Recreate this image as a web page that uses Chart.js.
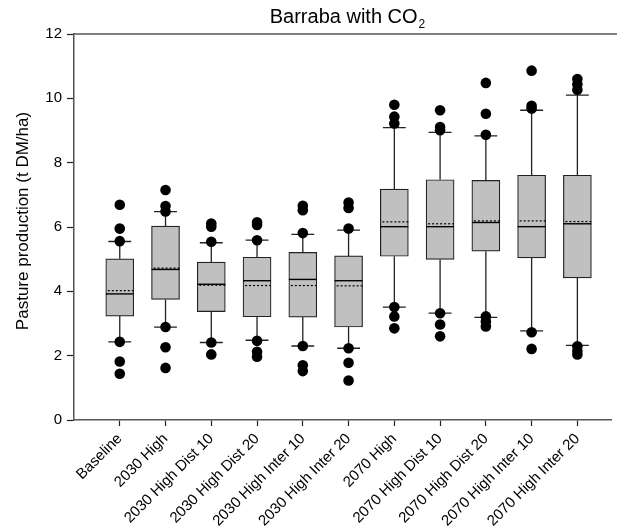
<!DOCTYPE html>
<html lang="en">
<head>
    <meta charset="UTF-8">
    <title>Barraba with CO2</title>
    <script src="https://cdn.jsdelivr.net/npm/chart.js@4.4.1/dist/chart.umd.min.js"></script>
    <style>
        body {
            margin: 0;
            background: #fff;
        }
        #chartContainer {
            width: 617px;
            height: 529px;
            position: relative;
        }
    </style>
</head>
<body>
    <div id="chartContainer">
        <canvas id="myChart"></canvas>
    </div>

    <script>
        const labels = ['Baseline', '2030 High', '2030 High Dist 10', '2030 High Dist 20', '2030 High Inter 10',
            '2030 High Inter 20', '2070 High', '2070 High Dist 10', '2070 High Dist 20', '2070 High Inter 10',
            '2070 High Inter 20'];
        const q1 = [3.23, 3.75, 3.37, 3.21, 3.20, 2.89, 5.09, 4.99, 5.25, 5.04, 4.42];
        const q3 = [5.01, 6.03, 4.91, 5.06, 5.21, 5.10, 7.18, 7.47, 7.45, 7.61, 7.61];
        const medians = [3.92, 4.68, 4.22, 4.33, 4.37, 4.33, 6.01, 6.01, 6.14, 6.01, 6.10];
        const means = [4.02, 4.72, 4.19, 4.18, 4.18, 4.17, 6.16, 6.10, 6.19, 6.19, 6.17];
        const whiskerLow = [2.43, 2.89, 2.41, 2.48, 2.30, 2.23, 3.51, 3.32, 3.19, 2.77, 2.32];
        const whiskerHigh = [5.55, 6.48, 5.51, 5.59, 5.77, 5.90, 9.09, 8.94, 8.83, 9.63, 10.10];
        const outliers = [
            [6.69, 5.95, 5.56, 2.43, 1.82, 1.44],
            [7.15, 6.65, 6.48, 2.89, 2.26, 1.62],
            [6.11, 6.01, 5.54, 2.41, 2.04],
            [6.15, 6.06, 5.59, 2.46, 2.12, 1.97],
            [6.66, 6.52, 5.81, 2.30, 1.70, 1.52],
            [6.76, 6.59, 5.95, 2.23, 1.78, 1.23],
            [9.80, 9.43, 9.22, 3.51, 3.22, 2.85],
            [9.63, 9.11, 9.01, 3.32, 2.97, 2.60],
            [10.48, 9.52, 8.87, 3.22, 3.06, 2.91],
            [10.86, 9.77, 9.68, 2.73, 2.21],
            [10.60, 10.44, 10.27, 2.29, 2.15, 2.04]
        ];
        const yTicks = [0, 2, 4, 6, 8, 10, 12];

        const FONT = "'Liberation Sans', Arial, Helvetica, sans-serif";
        const BOX_HALF = 0.305;   // half box width in x units
        const CAP_HALF = 0.25;    // half whisker cap width

        const boxData = labels.map((l, i) => ({x: i + 1, y: [q1[i], q3[i]]}));
        const dotData = [];
        outliers.forEach((list, i) => list.forEach(v => dotData.push({x: i + 1, y: v})));

        // whiskers, medians, means and the text bits
        const boxExtras = {
            id: 'boxExtras',
            beforeDatasetsDraw(chart) {
                const ctx = chart.ctx, xs = chart.scales.x, ys = chart.scales.y;
                ctx.save();
                ctx.strokeStyle = '#222';
                ctx.lineWidth = 1.3;
                labels.forEach((l, i) => {
                    const x = xs.getPixelForValue(i + 1);
                    const c0 = xs.getPixelForValue(i + 1 - CAP_HALF), c1 = xs.getPixelForValue(i + 1 + CAP_HALF);
                    [[q3[i], whiskerHigh[i]], [q1[i], whiskerLow[i]]].forEach(([a, b]) => {
                        ctx.beginPath();
                        ctx.moveTo(x, ys.getPixelForValue(a));
                        ctx.lineTo(x, ys.getPixelForValue(b));
                        ctx.moveTo(c0, ys.getPixelForValue(b));
                        ctx.lineTo(c1, ys.getPixelForValue(b));
                        ctx.stroke();
                    });
                });
                ctx.restore();
            },
            afterDatasetDraw(chart, args) {
                if (args.index !== 1) return;
                const ctx = chart.ctx, xs = chart.scales.x, ys = chart.scales.y;
                ctx.save();
                labels.forEach((l, i) => {
                    const x0 = xs.getPixelForValue(i + 1 - BOX_HALF), x1 = xs.getPixelForValue(i + 1 + BOX_HALF);
                    ctx.strokeStyle = '#000';
                    ctx.lineWidth = 1.4;
                    ctx.setLineDash([]);
                    ctx.beginPath();
                    ctx.moveTo(x0, ys.getPixelForValue(medians[i]));
                    ctx.lineTo(x1, ys.getPixelForValue(medians[i]));
                    ctx.stroke();
                    ctx.lineWidth = 1.2;
                    ctx.setLineDash([2, 2]);
                    ctx.beginPath();
                    ctx.moveTo(x0 + 2, ys.getPixelForValue(means[i]));
                    ctx.lineTo(x1, ys.getPixelForValue(means[i]));
                    ctx.stroke();
                });
                ctx.restore();
            },
            afterDraw(chart) {
                const ctx = chart.ctx, area = chart.chartArea;
                ctx.save();
                // top frame line
                ctx.strokeStyle = '#555';
                ctx.lineWidth = 1.5;
                ctx.beginPath();
                ctx.moveTo(area.left, area.top);
                ctx.lineTo(chart.width, area.top);
                ctx.stroke();
                // title with subscript
                ctx.fillStyle = '#000';
                ctx.textBaseline = 'alphabetic';
                ctx.textAlign = 'left';
                ctx.font = '20px ' + FONT;
                const main = 'Barraba with CO';
                const w = ctx.measureText(main).width;
                ctx.font = '12px ' + FONT;
                const w2 = ctx.measureText('2').width;
                const startX = 347 - (w + w2) / 2;
                ctx.font = '20px ' + FONT;
                ctx.fillText(main, startX, 23);
                ctx.font = '12px ' + FONT;
                ctx.fillText('2', startX + w + 1, 28);
                // y-axis title
                ctx.font = '17px ' + FONT;
                ctx.textAlign = 'center';
                ctx.textBaseline = 'middle';
                ctx.translate(23, (area.top + area.bottom) / 2 - 6);
                ctx.rotate(-Math.PI / 2);
                ctx.fillText('Pasture production (t DM/ha)', 0, 0);
                ctx.restore();
            }
        };

        const ctx = document.getElementById('myChart').getContext('2d');
        const chart = new Chart(ctx, {
            type: 'bar',
            data: {
                datasets: [
                    {
                        type: 'scatter',
                        label: 'Outliers',
                        data: dotData,
                        backgroundColor: '#000',
                        borderColor: '#000',
                        pointRadius: 5.3,
                        pointBorderWidth: 0
                    },
                    {
                        label: 'Boxes',
                        data: boxData,
                        backgroundColor: '#c0c0c0',
                        borderColor: '#222',
                        borderWidth: 1.2,
                        borderSkipped: false,
                        barThickness: 28
                    }
                ]
            },
            options: {
                responsive: true,
                maintainAspectRatio: false,
                animation: false,
                layout: {padding: {top: 34, right: 0, left: 0, bottom: 0}},
                plugins: {
                    legend: {display: false},
                    tooltip: {enabled: false},
                    title: {display: false}
                },
                scales: {
                    x: {
                        type: 'linear',
                        offset: false,
                        min: 0,
                        max: 11.75,
                        afterBuildTicks: (scale) => {
                            scale.ticks = labels.map((l, i) => ({value: i + 1}));
                        },
                        afterFit: (scale) => { scale.height = 109; },
                        ticks: {
                            autoSkip: false,
                            maxRotation: 45,
                            minRotation: 45,
                            padding: 4,
                            color: '#000',
                            font: {family: FONT, size: 15},
                            callback: (v) => labels[v - 1]
                        },
                        grid: {offset: false, drawOnChartArea: false, tickLength: 6, tickColor: '#222', tickWidth: 1.2},
                        border: {color: '#555', width: 1.5}
                    },
                    y: {
                        min: 0,
                        max: 12,
                        afterBuildTicks: (scale) => {
                            scale.ticks = yTicks.map(v => ({value: v}));
                        },
                        afterFit: (scale) => { scale.width = 74; },
                        ticks: {
                            color: '#000',
                            padding: 5,
                            font: {family: FONT, size: 15}
                        },
                        grid: {drawOnChartArea: false, tickLength: 7, tickColor: '#222', tickWidth: 1.2},
                        border: {color: '#555', width: 1.5}
                    }
                }
            },
            plugins: [boxExtras]
        });
    </script>
</body>
</html>
